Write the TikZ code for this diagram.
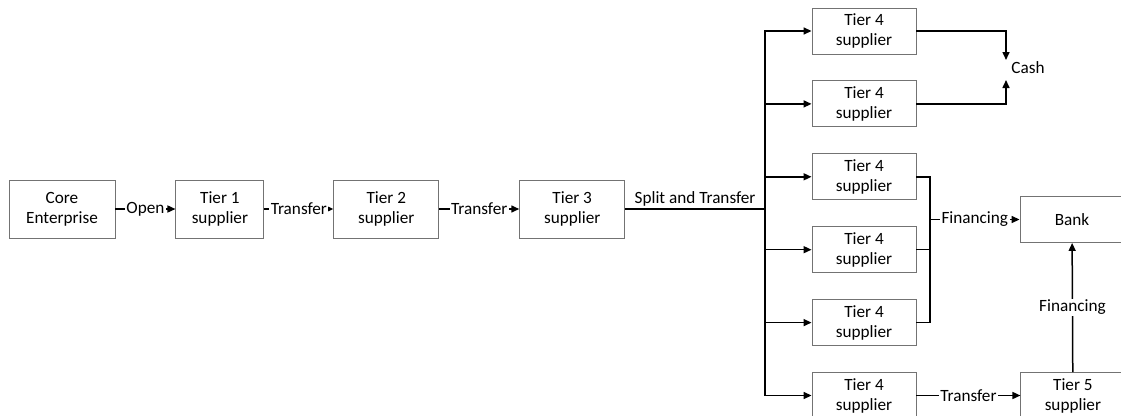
\documentclass[tikz,border=0pt]{standalone}
\usepackage{fontspec}
\setmainfont{Carlito}
\usetikzlibrary{positioning,arrows.meta}

\tikzset{
  box/.style={draw=black!55,line width=0.9pt,align=center,minimum width=104pt,minimum height=46pt,inner sep=2pt},
  lbl/.style={fill=white,inner sep=1.5pt},
  flow/.style={line width=1.5pt,-{Triangle[length=8pt,width=7pt]}},
  link/.style={line width=1.5pt}
}

\begin{document}
\begin{tikzpicture}[x=1pt,y=1pt,font=\fontsize{17.2}{20}\selectfont]
\useasboundingbox (0,0) rectangle (1121,-415);
% main chain
\node (core) [box,minimum width=106pt,minimum height=58pt] at (62,-209) {Core\\Enterprise};
\node (t1) [box,minimum width=88pt,minimum height=58pt,right=60pt of core] {Tier 1\\supplier};
\node (t2) [box,minimum width=105pt,minimum height=58pt,right=69pt of t1] {Tier 2\\supplier};
\node (t3) [box,minimum width=105pt,minimum height=58pt,right=80pt of t2] {Tier 3\\supplier};
% tier 4 column
\node (t4a) [box] at (864,-31) {Tier 4\\supplier};
\node (t4b) [box,below=26pt of t4a] {Tier 4\\supplier};
\node (t4c) [box,below=26pt of t4b] {Tier 4\\supplier};
\node (t4d) [box,below=26pt of t4c] {Tier 4\\supplier};
\node (t4e) [box,below=26pt of t4d] {Tier 4\\supplier};
\node (t4f) [box,below=26pt of t4e] {Tier 4\\supplier};
\node (bank) [box] at (1072,-219.5) {Bank};
\node (t5) [box,right=104pt of t4f] {Tier 5\\supplier};
\node (cash) at (1028,-68) {Cash};
\coordinate (split) at (765,-209);
\coordinate (fin) at (930,-219.5);
\coordinate (cashtop) at (1006,-60);
\coordinate (cashbot) at (1006,-80);

\draw[flow] (core) -- node[lbl] {Open} (t1);
\draw[flow] (t1) -- node[lbl] {Transfer} (t2);
\draw[flow] (t2) -- node[lbl] {Transfer} (t3);
\draw[link] (t3) -- node[above,inner sep=2pt] {Split and Transfer} (split);
\foreach \t in {t4a,t4b,t4c,t4d,t4e,t4f}
  \draw[flow] (split) |- (\t.west);
% cash and financing
\draw[flow] (t4a.east) -| (cashtop);
\draw[flow] (t4b.east) -| (cashbot);
\draw[link] (t4c.east) -| (fin);
\draw[link] (t4e.east) -| (fin);
\draw[link] (t4d.east) -- (t4d.east -| fin);
\draw[flow] (fin) -- node[lbl] {Financing} (bank);
\draw[flow] (t4f) -- node[lbl] {Transfer} (t5);
\draw[flow] (t5) -- node[lbl] {Financing} (bank);
\end{tikzpicture}
\end{document}
